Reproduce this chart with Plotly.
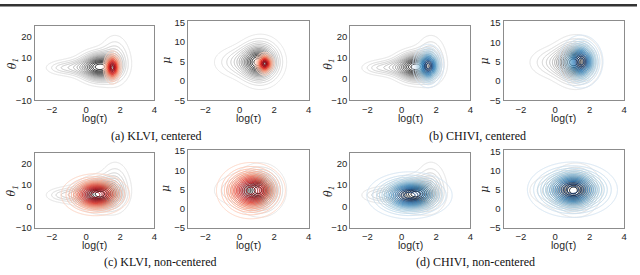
import numpy as np
import plotly.graph_objects as go

# ---- axes / ticks ----
LOGTAU_RANGE = [-3, 4]
THETA_RANGE = [-10, 25]
MU_RANGE = [-5, 15.4]
X_TICKS = [-2, 0, 2, 4]
THETA_TICKS = [-10, 0, 10, 20]
MU_TICKS = [-5, 0, 5, 10, 15]
X_TITLE = "log(τ)"
THETA_TITLE = "θ<sub>1</sub>"
MU_TITLE = "μ"
CAPTIONS = ["(a) KLVI, centered", "(b) CHIVI, centered",
            "(c) KLVI, non-centered", "(d) CHIVI, non-centered"]

# ---- densities: components (weight, mean logtau, mean y, sd logtau, sd y, corr) ----
NUTS_THETA = [(0.60, 0.8, 5.8, 0.65, 3.8, 0.0),
              (0.12, -0.5, 5.5, 0.80, 2.4, 0.0),
              (0.02, -1.6, 5.3, 0.50, 1.8, 0.0),
              (0.20, 1.7, 9.0, 0.50, 6.5, 0.0)]
NUTS_MU = [(0.55, 1.1, 4.8, 0.60, 2.6, 0.0),
           (0.20, 0.1, 4.8, 0.85, 2.2, 0.0),
           (0.20, 1.3, 5.0, 0.70, 3.6, 0.0)]
KLVI_C_THETA = [(1.0, 1.55, 5.5, 0.22, 3.2, 0.0)]
KLVI_C_MU = [(1.0, 1.45, 4.4, 0.23, 1.2, 0.0)]
CHIVI_C_THETA = [(1.0, 1.55, 6.2, 0.37, 4.2, 0.0)]
CHIVI_C_MU = [(1.0, 1.50, 5.0, 0.52, 2.8, 0.0)]
KLVI_NC_THETA = [(1.0, 0.55, 5.5, 0.82, 4.0, 0.0)]
KLVI_NC_MU = [(1.0, 0.65, 4.7, 0.82, 3.0, 0.0)]
CHIVI_NC_THETA = [(1.0, 0.45, 5.2, 1.02, 4.5, 0.0)]
CHIVI_NC_MU = [(1.0, 1.00, 5.0, 1.08, 3.0, 0.0)]

# iso-proportion contour levels (fraction of mass outside each contour)
LEVEL_START, LEVEL_END, LEVEL_STEP = 0.05, 0.95, 0.06

GREYS = [[0, "#e4e4e4"], [0.35, "#b4b4b4"], [0.65, "#6e6e6e"], [0.85, "#2e2e2e"], [1, "#000000"]]
REDS = [[0, "#fdd5c4"], [0.35, "#fc9272"], [0.65, "#ef3b2c"], [0.85, "#cb181d"], [1, "#99000d"]]
BLUES = [[0, "#d6e6f4"], [0.35, "#9ecae1"], [0.65, "#4292c6"], [0.85, "#2171b5"], [1, "#08306b"]]


def mixture(comps, X, Y):
    Z = np.zeros_like(X)
    for w, mx, my, sx, sy, r in comps:
        dx = (X - mx) / sx
        dy = (Y - my) / sy
        q = (dx * dx - 2 * r * dx * dy + dy * dy) / (1 - r * r)
        Z += w * np.exp(-0.5 * q) / (2 * np.pi * sx * sy * np.sqrt(1 - r * r))
    return Z


def mass_fraction(Z):
    flat = Z.ravel()
    order = np.argsort(flat)
    cum = np.cumsum(flat[order])
    cum /= cum[-1]
    out = np.empty_like(flat)
    out[order] = cum
    return out.reshape(Z.shape)


# panel layout in pixels: (x0, x1, y_top, y_bottom)
PANELS = [
    (35, 155, 23, 99.5), (189, 310, 17.5, 99.5), (352, 472.5, 23, 99.5), (506, 627, 18, 99.5),
    (35, 155, 154, 231.5), (189, 310, 150.5, 231.5), (352, 472.5, 154, 231.5), (506, 627, 151, 231.5),
]
YTITLE_X = [13, 167, 331, 487, 13, 167, 331, 487]
XTITLE_Y = [117.5, 117.5, 117.5, 117.5, 249.5, 249.5, 249.5, 249.5]
PANEL_DATA = [
    ("theta", NUTS_THETA, KLVI_C_THETA, REDS), ("mu", NUTS_MU, KLVI_C_MU, REDS),
    ("theta", NUTS_THETA, CHIVI_C_THETA, BLUES), ("mu", NUTS_MU, CHIVI_C_MU, BLUES),
    ("theta", NUTS_THETA, KLVI_NC_THETA, REDS), ("mu", NUTS_MU, KLVI_NC_MU, REDS),
    ("theta", NUTS_THETA, CHIVI_NC_THETA, BLUES), ("mu", NUTS_MU, CHIVI_NC_MU, BLUES),
]

W, H = 640, 275
fig = go.Figure()
layout = {}
annotations = []
SANS = "Liberation Sans, Arial, sans-serif"
TICKFONT = dict(family=SANS, size=9.5, color="#262626")

xg = np.linspace(LOGTAU_RANGE[0], LOGTAU_RANGE[1], 181)
for k, ((x0, x1, yt, yb), (kind, gray, col, cs)) in enumerate(zip(PANELS, PANEL_DATA), start=1):
    yr = THETA_RANGE if kind == "theta" else MU_RANGE
    yg = np.linspace(yr[0], yr[1], 181)
    X, Y = np.meshgrid(xg, yg)
    for comps, scale in ((gray, GREYS), (col, cs)):
        Z = np.round(mass_fraction(mixture(comps, X, Y)), 4)
        fig.add_trace(go.Contour(
            x=xg, y=yg, z=Z, xaxis=f"x{k}", yaxis=f"y{k}",
            contours=dict(coloring="lines", start=LEVEL_START, end=LEVEL_END, size=LEVEL_STEP),
            colorscale=scale, zmin=LEVEL_START, zmax=LEVEL_END, showscale=False,
            line=dict(width=1), hoverinfo="skip"))
    sfx = "" if k == 1 else str(k)
    layout[f"xaxis{sfx}"] = dict(
        domain=[x0 / W, x1 / W], anchor=f"y{k}", range=LOGTAU_RANGE, tickvals=X_TICKS,
        showline=True, mirror=True, linecolor="#8c8c8c", linewidth=1.2, showgrid=False,
        zeroline=False, ticks="", tickfont=TICKFONT)
    layout[f"yaxis{sfx}"] = dict(
        domain=[1 - yb / H, 1 - yt / H], anchor=f"x{k}", range=yr,
        tickvals=THETA_TICKS if kind == "theta" else MU_TICKS,
        showline=True, mirror=True, linecolor="#8c8c8c", linewidth=1.2, showgrid=False,
        zeroline=False, ticks="", tickfont=TICKFONT)
    annotations.append(dict(text=X_TITLE, x=(x0 + x1) / 2 / W, y=1 - XTITLE_Y[k - 1] / H,
                            xref="paper", yref="paper", showarrow=False,
                            xanchor="center", yanchor="middle",
                            font=dict(family=SANS, size=10.5, color="#262626")))
    annotations.append(dict(text=THETA_TITLE if kind == "theta" else MU_TITLE,
                            x=YTITLE_X[k - 1] / W, y=1 - (yt + yb) / 2 / H,
                            xref="paper", yref="paper", showarrow=False, textangle=-90,
                            xanchor="center", yanchor="middle",
                            font=dict(family="DejaVu Serif, Liberation Serif", size=11,
                                      color="#262626", style="italic")))

for cap, cx, cy in zip(CAPTIONS, [157, 480, 161, 478], [136, 136, 267, 267]):
    annotations.append(dict(text=cap, x=cx / W, y=1 - cy / H, xref="paper", yref="paper",
                            showarrow=False, xanchor="center", yanchor="middle",
                            font=dict(family="Liberation Serif, Times New Roman", size=12, color="#111")))

fig.update_layout(
    width=W, height=H, margin=dict(l=0, r=0, t=0, b=0),
    paper_bgcolor="white", plot_bgcolor="white", showlegend=False,
    annotations=annotations,
    shapes=[dict(type="rect", xref="paper", yref="paper", x0=0, x1=1, y0=1 - 2.5 / H, y1=1,
                 fillcolor="#333333", line=dict(width=0))],
    **layout)

fig.write_html("out.html", config={"displayModeBar": False},
               post_script="document.body.style.margin='0';")
